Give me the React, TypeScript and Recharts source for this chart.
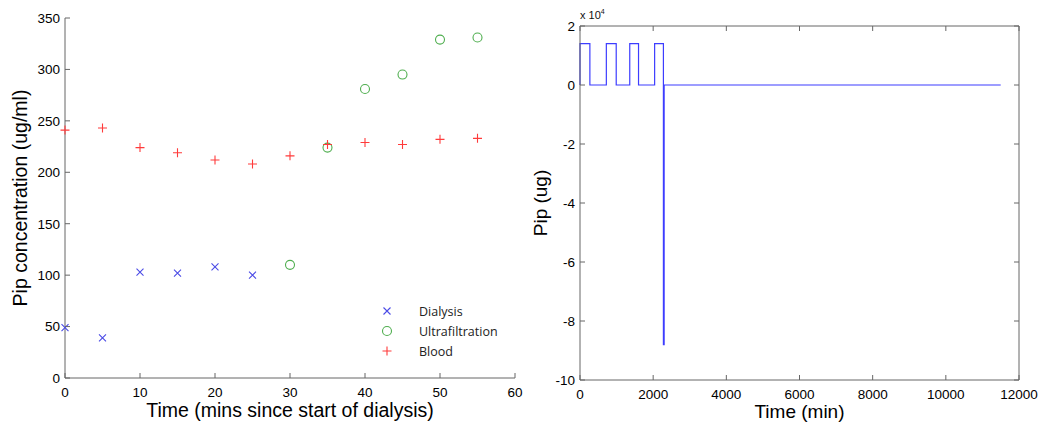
import { ScatterChart, Scatter, LineChart, Line, XAxis, YAxis, Legend } from 'recharts'

// left panel: measured concentrations
const dialysisTime = [0, 5, 10, 15, 20, 25]
const dialysisConc = [49, 39, 103, 102, 108, 100]
const ultraTime = [30, 35, 40, 45, 50, 55]
const ultraConc = [110, 224, 281, 295, 329, 331]
const bloodTime = [0, 5, 10, 15, 20, 25, 30, 35, 40, 45, 50, 55]
const bloodConc = [241, 243, 224, 219, 212, 208, 216, 227, 229, 227, 232, 233]
const concTicks = [0, 50, 100, 150, 200, 250, 300, 350]
const timeTicks = [0, 10, 20, 30, 40, 50, 60]

// right panel: simulated amount (step changes)
const pipTime = [0, 0, 270, 720, 990, 1360, 1600, 2040, 2280, 2300, 11500]
const pipAmount = [0, 14000, 0, 14000, 0, 14000, 0, 14000, -88000, 0, 0]
const pipTicks = [-100000, -80000, -60000, -40000, -20000, 0, 20000]
const minTicks = [0, 2000, 4000, 6000, 8000, 10000, 12000]

const AXIS = '#666'
const FONT = 'Liberation Sans, Arial, sans-serif'
const tickFont = { fontFamily: FONT, fontSize: 13.5, fill: '#000' }
const labelStyle = { fontFamily: FONT, fontSize: 19.5, fill: '#000', textAnchor: 'middle' as const }
const labelStyleR = { ...labelStyle, fontSize: 19 }

const DIALYSIS = '#4b4be6'
const ULTRA = '#4fae4f'
const BLOOD = '#ff3b3b'
const LINE = '#3d3dff'

const dialysis = dialysisTime.map((t, i) => ({ t, v: dialysisConc[i] }))
const ultra = ultraTime.map((t, i) => ({ t, v: ultraConc[i] }))
const blood = bloodTime.map((t, i) => ({ t, v: bloodConc[i] }))
const pip = pipTime.map((t, i) => ({ t, v: pipAmount[i] }))

function Cross({ cx, cy, color }: any) {
  const d = 3.5
  return (
    <path
      d={`M${cx - d},${cy - d}L${cx + d},${cy + d}M${cx - d},${cy + d}L${cx + d},${cy - d}`}
      stroke={color}
      strokeWidth={1.1}
      fill="none"
    />
  )
}

function Ring({ cx, cy, color }: any) {
  return <circle cx={cx} cy={cy} r={4.5} stroke={color} strokeWidth={1.1} fill="none" />
}

function Plus({ cx, cy, color }: any) {
  const d = 4.5
  return (
    <path
      d={`M${cx - d},${cy}L${cx + d},${cy}M${cx},${cy - d}L${cx},${cy + d}`}
      stroke={color}
      strokeWidth={1.1}
      fill="none"
    />
  )
}

const legendItems = [
  { name: 'Dialysis', Marker: Cross, color: DIALYSIS },
  { name: 'Ultrafiltration', Marker: Ring, color: ULTRA },
  { name: 'Blood', Marker: Plus, color: BLOOD },
]

function LegendBox() {
  return (
    <div style={{ fontFamily: 'Open Sans, sans-serif', fontSize: 12.5, color: '#222' }}>
      {legendItems.map(({ name, Marker, color }) => (
        <div key={name} style={{ display: 'flex', alignItems: 'center', height: 20 }}>
          <svg width={20} height={20}>
            <Marker cx={10} cy={10} color={color} />
          </svg>
          <span style={{ marginLeft: 22 }}>{name}</span>
        </div>
      ))}
    </div>
  )
}

// ticks point into the plot, like the original figure
function BottomTick({ x, y, payload, gap, fmt }: any) {
  return (
    <g>
      <line x1={x} x2={x} y1={y - gap} y2={y - gap - 5} stroke={AXIS} />
      <text x={x} y={y} dy="0.71em" textAnchor="middle" {...tickFont}>
        {fmt ? fmt(payload.value) : payload.value}
      </text>
    </g>
  )
}

function LeftTick({ x, y, payload, gap, fmt }: any) {
  return (
    <g>
      <line x1={x + gap} x2={x + gap + 5} y1={y} y2={y} stroke={AXIS} />
      <text x={x} y={y} dy="0.355em" textAnchor="end" {...tickFont}>
        {fmt ? fmt(payload.value) : payload.value}
      </text>
    </g>
  )
}

function TopTick({ x, y }: any) {
  return <line x1={x} x2={x} y1={y} y2={y + 5} stroke={AXIS} />
}

function RightTick({ x, y }: any) {
  return <line x1={x} x2={x - 5} y1={y} y2={y} stroke={AXIS} />
}

const e4 = (v: number) => String(v / 10000)

export default function App() {
  return (
    <div
      style={{
        position: 'absolute',
        left: 0,
        top: 0,
        width: 1054,
        height: 426,
        display: 'flex',
        background: '#fff',
      }}
    >
      <ScatterChart width={525} height={426} margin={{ top: 18, right: 10, bottom: 0, left: 0 }}>
        <XAxis
          dataKey="t"
          type="number"
          domain={[0, 60]}
          ticks={timeTicks}
          height={48}
          stroke={AXIS}
          tickSize={0}
          tickMargin={9}
          tick={(p: any) => <BottomTick {...p} gap={9} />}
          label={{ value: 'Time (mins since start of dialysis)', position: 'insideBottom', offset: 9, style: labelStyle }}
        />
        <YAxis
          dataKey="v"
          type="number"
          domain={[0, 350]}
          ticks={concTicks}
          width={65}
          stroke={AXIS}
          tickSize={0}
          tickMargin={5}
          tick={(p: any) => <LeftTick {...p} gap={5} />}
          label={{ value: 'Pip concentration (ug/ml)', angle: -90, position: 'insideLeft', offset: 20, style: labelStyle }}
        />
        <Legend
          layout="horizontal"
          verticalAlign="middle"
          align="center"
          content={() => <LegendBox />}
          wrapperStyle={{ left: 377, top: 301, width: 140 }}
        />
        <Scatter name="Dialysis" data={dialysis} isAnimationActive={false} shape={(p: any) => <Cross {...p} color={DIALYSIS} />} />
        <Scatter name="Ultrafiltration" data={ultra} isAnimationActive={false} shape={(p: any) => <Ring {...p} color={ULTRA} />} />
        <Scatter name="Blood" data={blood} isAnimationActive={false} shape={(p: any) => <Plus {...p} color={BLOOD} />} />
      </ScatterChart>

      <div style={{ position: 'relative', width: 529, height: 426 }}>
        <LineChart width={529} height={426} data={pip} margin={{ top: 25, right: 34, bottom: 0, left: 0 }}>
          <XAxis
            dataKey="t"
            type="number"
            domain={[0, 12000]}
            ticks={minTicks}
            height={46}
            stroke={AXIS}
            tickSize={0}
            tickMargin={9}
            tick={(p: any) => <BottomTick {...p} gap={9} />}
            label={{ value: 'Time (min)', position: 'insideBottom', offset: 8, style: labelStyleR }}
          />
          <XAxis
            xAxisId="top"
            dataKey="t"
            orientation="top"
            type="number"
            domain={[0, 12000]}
            ticks={minTicks}
            height={1}
            stroke={AXIS}
            tickSize={0}
            tickMargin={0}
            tick={(p: any) => <TopTick {...p} />}
          />
          <YAxis
            type="number"
            domain={[-100000, 20000]}
            ticks={pipTicks}
            width={55}
            stroke={AXIS}
            tickSize={0}
            tickMargin={5}
            tick={(p: any) => <LeftTick {...p} gap={5} fmt={e4} />}
            label={{ value: 'Pip (ug)', angle: -90, position: 'insideLeft', offset: 15, style: labelStyleR }}
          />
          <YAxis
            yAxisId="right"
            orientation="right"
            type="number"
            domain={[-100000, 20000]}
            ticks={pipTicks}
            width={1}
            stroke={AXIS}
            tickSize={0}
            tickMargin={0}
            tick={(p: any) => <RightTick {...p} />}
          />
          <Line
            dataKey="v"
            type="stepAfter"
            stroke={LINE}
            strokeWidth={1.2}
            dot={false}
            isAnimationActive={false}
          />
          {/* keeps the framing axes bound to data so they draw */}
          <Line
            xAxisId="top"
            yAxisId="right"
            dataKey="v"
            type="stepAfter"
            stroke="none"
            dot={false}
            activeDot={false}
            legendType="none"
            isAnimationActive={false}
          />
        </LineChart>
        <span
          style={{
            position: 'absolute',
            left: 55,
            top: 8,
            fontFamily: FONT,
            fontSize: 11,
            color: '#111',
          }}
        >
          x 10<sup style={{ fontSize: 7 }}>4</sup>
        </span>
      </div>
    </div>
  )
}
